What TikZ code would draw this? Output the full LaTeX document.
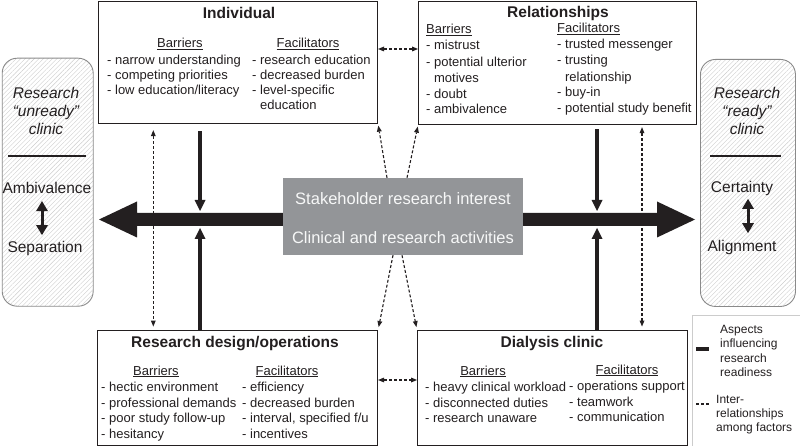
\documentclass[tikz,border=0pt]{standalone}
\usepackage{fontspec}
\setmainfont{Liberation Sans}
\usetikzlibrary{arrows.meta,patterns.meta,calc}
\definecolor{ink}{HTML}{231F20}
\definecolor{midgray}{HTML}{939598}
\definecolor{sidegray}{HTML}{8A8A8A}
\tikzset{
 box/.style={draw=ink, line width=1.1pt, inner sep=0pt, anchor=north west, fill=white},
 ttl/.style={font=\fontsize{15.5}{18}\selectfont\bfseries, text=ink, anchor=base, inner sep=0pt},
 hdr/.style={font=\fontsize{13}{15}\selectfont, text=ink, anchor=base, inner sep=0pt},
 lst/.style={font=\fontsize{13}{15}\selectfont, text=ink, anchor=base west, inner sep=0pt},
 sidebox/.style={draw=sidegray, line width=0.9pt, rounded corners=15pt, pattern={Lines[angle=45,distance=3.2pt,line width=0.4pt]}, pattern color=gray!40, inner sep=0pt, anchor=north west},
 stxt/.style={font=\fontsize{15.5}{18}\selectfont, text=ink, anchor=base, inner sep=0pt},
 ctxt/.style={font=\fontsize{16.5}{19}\selectfont, text=white!93!midgray, anchor=base, inner sep=0pt},
 leg/.style={font=\fontsize{12}{14}\selectfont, text=ink, anchor=base west, inner sep=0pt},
 thickarr/.style={draw=ink, line width=4pt, -{Triangle[length=11pt,width=11pt,line width=0pt]}},
 dasharr/.style={draw=ink, line width=1.1pt, dash pattern=on 3pt off 2pt, -{Triangle[length=6pt,width=5pt,line width=0pt]}},
 dasharrb/.style={draw=ink, line width=1.1pt, dash pattern=on 3pt off 2pt, {Triangle[length=6pt,width=5pt,line width=0pt]}-{Triangle[length=6pt,width=5pt,line width=0pt]}},
 dblarr/.style={draw=ink, line width=3pt, {Triangle[length=10pt,width=12pt,line width=0pt]}-{Triangle[length=10pt,width=12pt,line width=0pt]}}
}
\begin{document}
\begin{tikzpicture}[x=1pt,y=-1pt]
\useasboundingbox (0,0) rectangle (800,446);

% big two-headed arrow
\coordinate (lt) at (99,219.5);
\coordinate (rt) at (695,219.5);
\fill[ink] (lt) -- ++(38,-18) -- ++(0,11.5) -- ($(rt)+(-38,-6.5)$) -- ++(0,-11.5) -- (rt) -- ++(-38,18) -- ++(0,-11.5) -- ($(lt)+(38,6.5)$) -- ++(0,11.5) -- cycle;

% boxes
\node[box, minimum width=279pt, minimum height=122.5pt] (ind) at (98,0.6) {};
\node[box, minimum width=278pt, minimum height=123.5pt] (rel) at (418,0.6) {};
\node[box, minimum width=280pt, minimum height=115pt] (rd) at (97,330) {};
\node[box, minimum width=270pt, minimum height=115pt] (dc) at (417,330) {};
\node[fill=midgray, minimum width=240pt, minimum height=77pt, inner sep=0pt] (ctr) at (403,216.5) {};
\node[sidebox, minimum width=91pt, minimum height=248pt] (unr) at (2,58) {};
\node[sidebox, minimum width=95pt, minimum height=247pt] (rdy) at (700,59) {};
\node[draw=gray!40, line width=1pt, minimum width=107.5pt, minimum height=130.5pt, inner sep=0pt, anchor=north west] (legbox) at (692,315) {};

% Individual
\node[ttl] (indT) at (239,18.3) {Individual};
\node[hdr] (indB) at (180,47.5) {\underline{Barriers}};
\node[hdr] (indF) at (308,47.5) {\underline{Facilitators}};
\node[lst] (ib1) at (107,64.5) {- narrow understanding};
\node[lst] (ib2) at (107,79.5) {- competing priorities};
\node[lst] (ib3) at (107,94.5) {- low education/literacy};
\node[lst] (if1) at (252,64.5) {- research education};
\node[lst] (if2) at (252,79.5) {- decreased burden};
\node[lst] (if3) at (252,94.5) {- level-specific};
\node[lst] (if4) at (252,109.5) {\phantom{- }education};

% Relationships
\node[ttl] (relT) at (558,17.3) {Relationships};
\node[hdr, anchor=base west] (relB) at (426,33.3) {\underline{Barriers}};
\node[hdr, anchor=base west] (relF) at (557,32.3) {\underline{Facilitators}};
\node[lst] (rb1) at (426,49.3) {- mistrust};
\node[lst] (rb2) at (426,66.7) {- potential ulterior};
\node[lst] (rb3) at (426,82.7) {\phantom{- }motives};
\node[lst] (rb4) at (426,98.3) {- doubt};
\node[lst] (rb5) at (426,113.3) {- ambivalence};
\node[lst] (rf1) at (557,48.3) {- trusted messenger};
\node[lst] (rf2) at (557,65) {- trusting};
\node[lst] (rf3) at (557,81.7) {\phantom{- }relationship};
\node[lst] (rf4) at (557,96.7) {- buy-in};
\node[lst] (rf5) at (557,112.7) {- potential study benefit};

% Research design/operations
\node[ttl] (rdT) at (235,347) {Research design/operations};
\node[hdr] (rdB) at (156,375) {\underline{Barriers}};
\node[hdr] (rdF) at (287,375) {\underline{Facilitators}};
\node[lst] (db1) at (101,391.7) {- hectic environment};
\node[lst] (db2) at (101,407.3) {- professional demands};
\node[lst] (db3) at (101,422.7) {- poor study follow-up};
\node[lst] (db4) at (101,438.3) {- hesitancy};
\node[lst] (df1) at (242,391.7) {- efficiency};
\node[lst] (df2) at (242,407.3) {- decreased burden};
\node[lst] (df3) at (242,422.7) {- interval, specified f/u};
\node[lst] (df4) at (242,438.3) {- incentives};

% Dialysis clinic
\node[ttl] (dcT) at (552,347) {Dialysis clinic};
\node[hdr] (dcB) at (483,375) {\underline{Barriers}};
\node[hdr] (dcF) at (627,374) {\underline{Facilitators}};
\node[lst] (cb1) at (425,391.7) {- heavy clinical workload};
\node[lst] (cb2) at (425,407.3) {- disconnected duties};
\node[lst] (cb3) at (425,422.7) {- research unaware};
\node[lst] (cf1) at (569,390.7) {- operations support};
\node[lst] (cf2) at (569,406.3) {- teamwork};
\node[lst] (cf3) at (569,421.7) {- communication};

% center
\node[ctxt] (c1) at (403,205) {Stakeholder research interest};
\node[ctxt] (c2) at (403,244) {Clinical and research activities};

% left side box
\coordinate (sepy) at (0,156);
\node[stxt, font=\fontsize{15.5}{18}\selectfont\itshape] (u1) at (46,99) {Research};
\node[stxt, font=\fontsize{15.5}{18}\selectfont\itshape] (u2) at (46,117) {“unready”};
\node[stxt, font=\fontsize{15.5}{18}\selectfont\itshape] (u3) at (46,135) {clinic};
\draw[ink, line width=2.5pt] ($(unr.west |- sepy)+(6,0)$) -- ($(unr.east |- sepy)+(-7,0)$);
\node[stxt] (amb) at (47,193.3) {Ambivalence};
\node[stxt] (sep) at (45,252.5) {Separation};
\coordinate (ax) at (42,0);
\draw[dblarr, shorten <=7.5pt, shorten >=6pt] (amb.south -| ax) -- (sep.north -| ax);

% right side box
\node[stxt, font=\fontsize{15.5}{18}\selectfont\itshape] (r1) at (747,99) {Research};
\node[stxt, font=\fontsize{15.5}{18}\selectfont\itshape] (r2) at (747,117) {“ready”};
\node[stxt, font=\fontsize{15.5}{18}\selectfont\itshape] (r3) at (747,135) {clinic};
\draw[ink, line width=2.5pt] ($(rdy.west |- sepy)+(10,0)$) -- ($(rdy.east |- sepy)+(-15,0)$);
\node[stxt] (cer) at (742,193) {Certainty};
\node[stxt] (ali) at (742,252) {Alignment};
\coordinate (bx) at (748,0);
\draw[dblarr, shorten <=2.5pt, shorten >=7.5pt] (cer.south -| bx) -- (ali.north -| bx);

% thick vertical arrows
\coordinate (xa) at (200,0);
\coordinate (xb) at (597,0);
\coordinate (barT) at (0,211);
\coordinate (barB) at (0,228);
\draw[thickarr, shorten <=7pt] (ind.south -| xa) -- (xa |- barT);
\draw[thickarr, shorten <=4pt] (rel.south -| xb) -- (xb |- barT);
\draw[thickarr] (rd.north -| xa) -- (xa |- barB);
\draw[thickarr] (dc.north -| xb) -- (xb |- barB);

% dashed vertical double arrows
\coordinate (xc) at (153.3,0);
\coordinate (xd) at (642,0);
\draw[dasharrb, shorten <=6pt, shorten >=3.5pt] (ind.south -| xc) -- (rd.north -| xc);
\draw[dasharrb, shorten <=2pt, shorten >=3.5pt] (rel.south -| xd) -- (dc.north -| xd);

% dashed horizontal double arrows
\coordinate (h1) at (0,49);
\coordinate (h2) at (0,380);
\draw[dasharrb] (ind.east |- h1) -- (rel.west |- h1);
\draw[dasharrb] (rd.east |- h2) -- (dc.west |- h2);

% dashed diagonals from centre
\draw[dasharr, shorten >=1.5pt] ($(ctr.north)+(-16,0)$) -- (ind.south east);
\draw[dasharr, shorten >=1.5pt] ($(ctr.north)+(4,0)$) -- (rel.south west);
\draw[dasharr, shorten >=3pt] ($(ctr.south)+(-10,0)$) -- (rd.north east);
\draw[dasharr, shorten >=3pt] ($(ctr.south)+(-1,0)$) -- (dc.north west);

% legend
\coordinate (l1a) at (696,349);
\coordinate (l1b) at (709,349);
\coordinate (l2a) at (696,404);
\coordinate (l2b) at (709,404);
\draw[ink, line width=4pt] (l1a) -- (l1b);
\draw[ink, line width=1.1pt, dash pattern=on 3pt off 2pt] (l2a) -- (l2b);
\node[leg] (la1) at (720,333.3) {Aspects};
\node[leg] (la2) at (720,347.7) {influencing};
\node[leg] (la3) at (720,362.3) {research};
\node[leg] (la4) at (720,376.7) {readiness};
\node[leg] (lb1) at (716,403.3) {Inter-};
\node[leg] (lb2) at (716,417.3) {relationships};
\node[leg] (lb3) at (716,431.7) {among factors};
\end{tikzpicture}
\end{document}
